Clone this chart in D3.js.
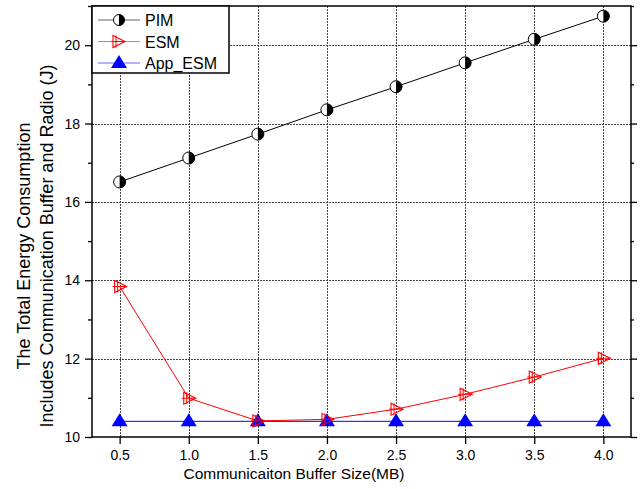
<!DOCTYPE html>
<html>
<head>
<meta charset="utf-8">
<script src="https://cdn.jsdelivr.net/npm/d3@7"></script>
<style>
  html, body { margin: 0; padding: 0; background: #fff; }
  svg { display: block; font-family: "Liberation Sans", Arial, sans-serif; }
</style>
</head>
<body>
<svg id="chart" width="643" height="489"></svg>
<script>
// Buffer sizes (MB) and energy per scheme (J)
const bufferSizes = [0.5, 1.0, 1.5, 2.0, 2.5, 3.0, 3.5, 4.0];
const pimEnergy    = [16.51, 17.12, 17.73, 18.35, 18.94, 19.55, 20.15, 20.74];
const esmEnergy    = [13.84, 10.99, 10.41, 10.45, 10.71, 11.09, 11.53, 12.01];
const appEsmEnergy = [10.40, 10.40, 10.40, 10.40, 10.40, 10.40, 10.40, 10.40];
const xTickValues = [0.5, 1.0, 1.5, 2.0, 2.5, 3.0, 3.5, 4.0];
const yTickValues = [10, 12, 14, 16, 18, 20];
const yMinorTicks = [11, 13, 15, 17, 19, 21];
const seriesNames = ["PIM", "ESM", "App_ESM"];

const svg = d3.select("#chart");
const plot = { left: 92, right: 631, top: 6, bottom: 437 };

const x = d3.scaleLinear().domain([0.3, 4.2]).range([plot.left, plot.right]);
const y = d3.scaleLinear().domain([10, 21]).range([plot.bottom, plot.top]);

// Grid lines
const grid = svg.append("g").attr("stroke", "#444").attr("stroke-width", 1)
  .attr("stroke-dasharray", "2,1");
xTickValues.forEach(v => {
  grid.append("line").attr("x1", Math.round(x(v)) + 0.5).attr("x2", Math.round(x(v)) + 0.5)
    .attr("y1", plot.top).attr("y2", plot.bottom);
});
yTickValues.filter(v => v > 10).forEach(v => {
  grid.append("line").attr("y1", Math.round(y(v)) + 0.5).attr("y2", Math.round(y(v)) + 0.5)
    .attr("x1", plot.left).attr("x2", plot.right);
});

// Axes
const fmtX = d3.format(".1f");
const xAxis = d3.axisBottom(x).tickValues(xTickValues).tickFormat(fmtX).tickSizeOuter(0).tickSize(7).tickPadding(6);
const gx = svg.append("g").attr("transform", `translate(0,${plot.bottom})`).call(xAxis);
const yAxis = d3.axisLeft(y).tickValues(yTickValues).tickFormat(d3.format("d")).tickSizeOuter(0).tickSize(7).tickPadding(5);
const gy = svg.append("g").attr("transform", `translate(${plot.left},0)`).call(yAxis);
const yMinor = d3.axisLeft(y).tickValues(yMinorTicks).tickFormat("").tickSizeOuter(0).tickSize(4);
const gym = svg.append("g").attr("transform", `translate(${plot.left},0)`).call(yMinor);
const yRight = d3.axisLeft(y).tickValues(yTickValues).tickFormat("").tickSizeOuter(0).tickSize(-6);
const gyr = svg.append("g").attr("transform", `translate(${plot.right},0)`).call(yRight);
const yRightMinor = d3.axisLeft(y).tickValues(yMinorTicks).tickFormat("").tickSizeOuter(0).tickSize(-3);
const gyrm = svg.append("g").attr("transform", `translate(${plot.right},0)`).call(yRightMinor);

[gx, gy, gym, gyr, gyrm].forEach(g => {
  g.select(".domain").remove();
  g.selectAll(".tick line").attr("stroke", "#000").attr("stroke-width", 1.3);
  g.selectAll(".tick text").attr("fill", "#000").style("font-size", "14px")
    .style("font-family", "'Liberation Sans', Arial, sans-serif");
});

// Frame
svg.append("rect").attr("x", plot.left).attr("y", plot.top)
  .attr("width", plot.right - plot.left).attr("height", plot.bottom - plot.top)
  .attr("fill", "none").attr("stroke", "#000").attr("stroke-width", 1.5);

// Axis titles
svg.append("text").attr("x", 294).attr("y", 479)
  .attr("text-anchor", "middle").style("font-size", "15.5px").attr("fill", "#000")
  .text("Communicaiton Buffer Size(MB)");
const yt = svg.append("text").attr("transform", "translate(0,246) rotate(-90)")
  .attr("text-anchor", "middle").style("font-size", "18px").attr("fill", "#000");
yt.append("tspan").attr("x", 0).attr("y", 30).text("The Total Energy Consumption");
yt.append("tspan").attr("x", 0).attr("y", 53).text("Includes Communication Buffer and Radio (J)");

// Marker drawers
function pimMarker(g, cx, cy, r) {
  g.append("circle").attr("cx", cx).attr("cy", cy).attr("r", r).attr("fill", "#fff");
  g.append("path").attr("d", `M${cx},${cy - r} A${r},${r} 0 0 1 ${cx},${cy + r} Z`).attr("fill", "#000");
  g.append("circle").attr("cx", cx).attr("cy", cy).attr("r", r).attr("fill", "none")
    .attr("stroke", "#000").attr("stroke-width", 1);
}
function esmMarker(g, cx, cy) {
  g.append("path").attr("d", `M${cx - 5},${cy - 6} L${cx + 7},${cy} L${cx - 5},${cy + 6} Z`)
    .attr("fill", "none").attr("stroke", "#f00").attr("stroke-width", 1.1);
  g.append("line").attr("x1", cx - 2).attr("x2", cx - 2).attr("y1", cy - 6).attr("y2", cy + 6)
    .attr("stroke", "#f00").attr("stroke-width", 1);
  g.append("line").attr("x1", cx - 7).attr("x2", cx + 7).attr("y1", cy).attr("y2", cy)
    .attr("stroke", "#f00").attr("stroke-width", 1);
}
function appMarker(g, cx, cy) {
  g.append("path").attr("d", `M${cx},${cy - 8} L${cx + 8},${cy + 5} L${cx - 8},${cy + 5} Z`)
    .attr("fill", "#00f");
}

const line = d3.line().x(d => x(d[0])).y(d => y(d[1]));
const pts = vals => bufferSizes.map((b, i) => [b, vals[i]]);

// Series lines
svg.append("path").attr("d", line(pts(appEsmEnergy))).attr("fill", "none").attr("stroke", "#00f").attr("stroke-width", 1);
svg.append("path").attr("d", line(pts(esmEnergy))).attr("fill", "none").attr("stroke", "#f00").attr("stroke-width", 1);
svg.append("path").attr("d", line(pts(pimEnergy))).attr("fill", "none").attr("stroke", "#000").attr("stroke-width", 1);

// Series markers
const gm = svg.append("g");
pts(appEsmEnergy).forEach(p => appMarker(gm, x(p[0]), y(p[1])));
pts(esmEnergy).forEach(p => esmMarker(gm, x(p[0]), y(p[1])));
pts(pimEnergy).forEach(p => pimMarker(gm, x(p[0]), y(p[1]), 6));

// Legend
const lg = svg.append("g");
lg.append("rect").attr("x", plot.left).attr("y", plot.top).attr("width", 137).attr("height", 67)
  .attr("fill", "#fff").attr("stroke", "#000").attr("stroke-width", 1.5);
const legendColors = ["#000", "#f00", "#00f"];
seriesNames.forEach((name, i) => {
  const cy = 20 + i * 21.5;
  lg.append("line").attr("x1", 98).attr("x2", 140).attr("y1", cy).attr("y2", cy)
    .attr("stroke", legendColors[i]).attr("stroke-width", 1).attr("stroke-opacity", 0.6);
  if (i === 0) pimMarker(lg, 119, cy, 5.5);
  if (i === 1) esmMarker(lg, 118, cy);
  if (i === 2) appMarker(lg, 119, cy);
  lg.append("text").attr("x", 145).attr("y", cy + 6).style("font-size", "16px").attr("fill", "#000").text(name);
});
</script>
</body>
</html>
